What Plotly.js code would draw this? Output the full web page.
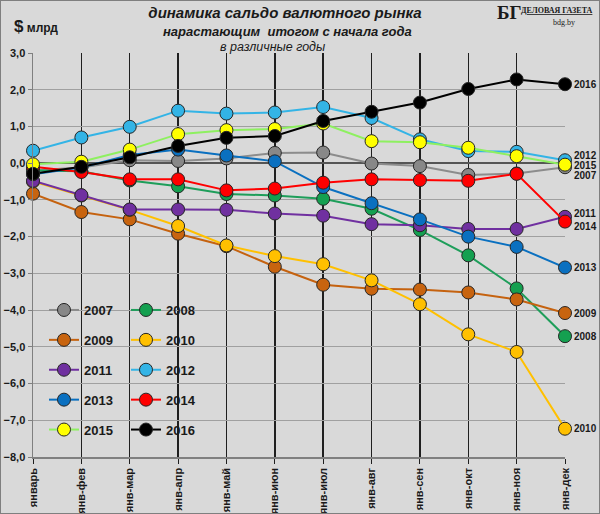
<!DOCTYPE html>
<html>
<head>
<meta charset="utf-8">
<script src="https://cdn.plot.ly/plotly-3.0.1.min.js"></script>
<style>
  html, body { margin: 0; padding: 0; background: #d9d9d9; }
  #chart { width: 600px; height: 514px; }
</style>
</head>
<body>
<div id="chart"></div>
<script>
// Data ($ bn, cumulative from January)
const months = ["январь", "янв-фев", "янв-мар", "янв-апр", "янв-май", "янв-июн",
  "янв-июл", "янв-авг", "янв-сен", "янв-окт", "янв-ноя", "янв-дек"];

const y2007 = [-0.20, -0.12, 0.08, 0.06, 0.13, 0.28, 0.29, -0.01, -0.08, -0.32, -0.28, -0.11];
const y2008 = [-0.20, -0.22, -0.47, -0.63, -0.84, -0.88, -0.97, -1.24, -1.82, -2.51, -3.41, -4.71];
const y2009 = [-0.83, -1.33, -1.53, -1.92, -2.26, -2.82, -3.31, -3.42, -3.44, -3.52, -3.71, -4.08];
const y2010 = [-0.50, -0.88, -1.27, -1.71, -2.24, -2.53, -2.75, -3.19, -3.84, -4.66, -5.14, -7.23];
const y2011 = [-0.48, -0.87, -1.26, -1.26, -1.27, -1.37, -1.43, -1.66, -1.69, -1.79, -1.79, -1.46];
const y2012 = [0.34, 0.70, 0.99, 1.43, 1.35, 1.38, 1.53, 1.23, 0.65, 0.33, 0.31, 0.08];
const y2013 = [-0.30, -0.12, 0.22, 0.37, 0.21, 0.05, -0.65, -1.09, -1.53, -2.00, -2.28, -2.84];
const y2014 = [-0.10, -0.24, -0.44, -0.44, -0.74, -0.69, -0.53, -0.44, -0.46, -0.48, -0.29, -1.59];
const y2015 = [-0.03, 0.04, 0.37, 0.79, 0.90, 0.93, 1.08, 0.60, 0.57, 0.42, 0.19, -0.04];
const y2016 = [-0.29, -0.10, 0.16, 0.47, 0.69, 0.74, 1.15, 1.40, 1.65, 2.02, 2.28, 2.15];

const years = ["2007", "2008", "2009", "2010", "2011", "2012", "2013", "2014", "2015", "2016"];
const values = [y2007, y2008, y2009, y2010, y2011, y2012, y2013, y2014, y2015, y2016];
const lineColors = ["#8c8c8c", "#1e9e5a", "#c5620f", "#ffc000", "#7030a0",
  "#33b4e6", "#0a70c0", "#ff0000", "#8ef060", "#000000"];
const markerColors = ["#888888", "#14a050", "#c8640f", "#ffc000", "#7030a0",
  "#33b4e6", "#0a70c0", "#ff0000", "#ffff00", "#000000"];

// end labels: pixel nudges so the crowded ones do not overlap
const endShift = { "2012": 5, "2015": -1, "2007": -8, "2011": 3, "2014": -5 };

const FONT = "Liberation Sans, Arial, sans-serif";

const traces = years.map((yr, i) => ({
  type: "scatter",
  mode: "lines+markers",
  name: yr,
  x: months,
  y: values[i],
  line: { color: lineColors[i], width: 2 },
  marker: { size: 13, color: markerColors[i], line: { color: "#262626", width: 1 } },
  legend: i % 2 === 0 ? "legend" : "legend2",
  legendgroup: yr,
  cliponaxis: false,
  hoverinfo: "x+y+name"
}));

// plot box in pixels: x 33..565, y 53..457
const L = 33, R = 35, T = 53, B = 57, H = 514 - T - B, W = 600 - L - R;
const py = (pix) => (514 - B - pix) / H; // pixel row -> paper y
const px = (pix) => (pix - L) / W;       // pixel column -> paper x

const annotations = years.map((yr, i) => ({
  x: months.length - 1,
  y: values[i][months.length - 1],
  xref: "x", yref: "y",
  text: yr,
  showarrow: false,
  xanchor: "left",
  yanchor: "middle",
  xshift: 8,
  yshift: endShift[yr] || 0,
  borderpad: 0,
  font: { family: FONT, size: 10, color: "#1a1a1a", weight: "bold" }
}));

const head = (text, x, y, xanchor, font) => ({
  text: text, xref: "paper", yref: "paper", x: x, y: y,
  xanchor: xanchor, yanchor: "middle", showarrow: false, borderpad: 0, font: font
});

annotations.push(
  head("<b><i>нарастающим  итогом с начала года</i></b>", px(287), py(32), "center",
    { family: FONT, size: 13, color: "#1a1a1a" }),
  head("<i>в различные годы</i>", px(272), py(47), "center",
    { family: FONT, size: 12.5, color: "#1a1a1a" }),
  head("<b><span style='font-size:17px'>$</span> млрд</b>", px(13), py(27), "left",
    { family: FONT, size: 12, color: "#1a1a1a" }),
  head("<b>БГ</b>", px(496), py(13), "left",
    { family: "Liberation Serif, serif", size: 19, color: "#1a1a1a" }),
  head("<b><u>ДЕЛОВАЯ ГАЗЕТА</u></b>", px(520), py(11), "left",
    { family: "Liberation Serif, serif", size: 8, color: "#1a1a1a" }),
  head("bdg.by", px(564), py(23), "center",
    { family: "Liberation Serif, serif", size: 8, color: "#1a1a1a" })
);

const legendBase = {
  bgcolor: "rgba(0,0,0,0)",
  font: { family: FONT, size: 13, color: "#1a1a1a", weight: "bold" },
  yanchor: "top",
  y: py(295),
  xanchor: "left",
  tracegroupgap: 10,
  itemwidth: 30
};

const layout = {
  width: 600,
  height: 514,
  margin: { l: L, r: R, t: T, b: B },
  paper_bgcolor: "#d9d9d9",
  plot_bgcolor: "#d9d9d9",
  separators: ", ",
  title: {
    text: "<b><i>динамика сальдо валютного рынка</i></b>",
    x: 285 / 600, xanchor: "center",
    y: 1 - 13 / 514, yanchor: "middle",
    font: { family: FONT, size: 15, color: "#1a1a1a" }
  },
  xaxis: {
    type: "category",
    range: [0, months.length - 1],
    showgrid: true,
    gridcolor: "#1f1f1f",
    gridwidth: 1.5,
    showline: true,
    linecolor: "#808080",
    linewidth: 1.5,
    ticks: "outside",
    ticklen: 5,
    tickcolor: "#1f1f1f",
    tickangle: -90,
    tickfont: { family: FONT, size: 11, color: "#1a1a1a", weight: "bold" },
    zeroline: false
  },
  yaxis: {
    range: [-8, 3],
    dtick: 1,
    tickformat: ".1f",
    showgrid: true,
    gridcolor: "#a0a0a0",
    gridwidth: 1,
    showline: true,
    linecolor: "#808080",
    linewidth: 1.5,
    ticks: "outside",
    ticklen: 4,
    tickcolor: "#808080",
    tickfont: { family: FONT, size: 11, color: "#1a1a1a", weight: "bold" },
    zeroline: true,
    zerolinecolor: "#555555",
    zerolinewidth: 1.5
  },
  legend: Object.assign({}, legendBase, { x: px(44) }),
  legend2: Object.assign({}, legendBase, { x: px(126) }),
  annotations: annotations,
  shapes: [{
    type: "rect", xref: "paper", yref: "paper",
    x0: -L / W, x1: 1 + R / W, y0: -B / H, y1: 1 + T / H,
    line: { color: "#7f7f7f", width: 2 }
  }],
  showlegend: true
};

Plotly.newPlot("chart", traces, layout, { displayModeBar: false, staticPlot: true });
</script>
</body>
</html>
